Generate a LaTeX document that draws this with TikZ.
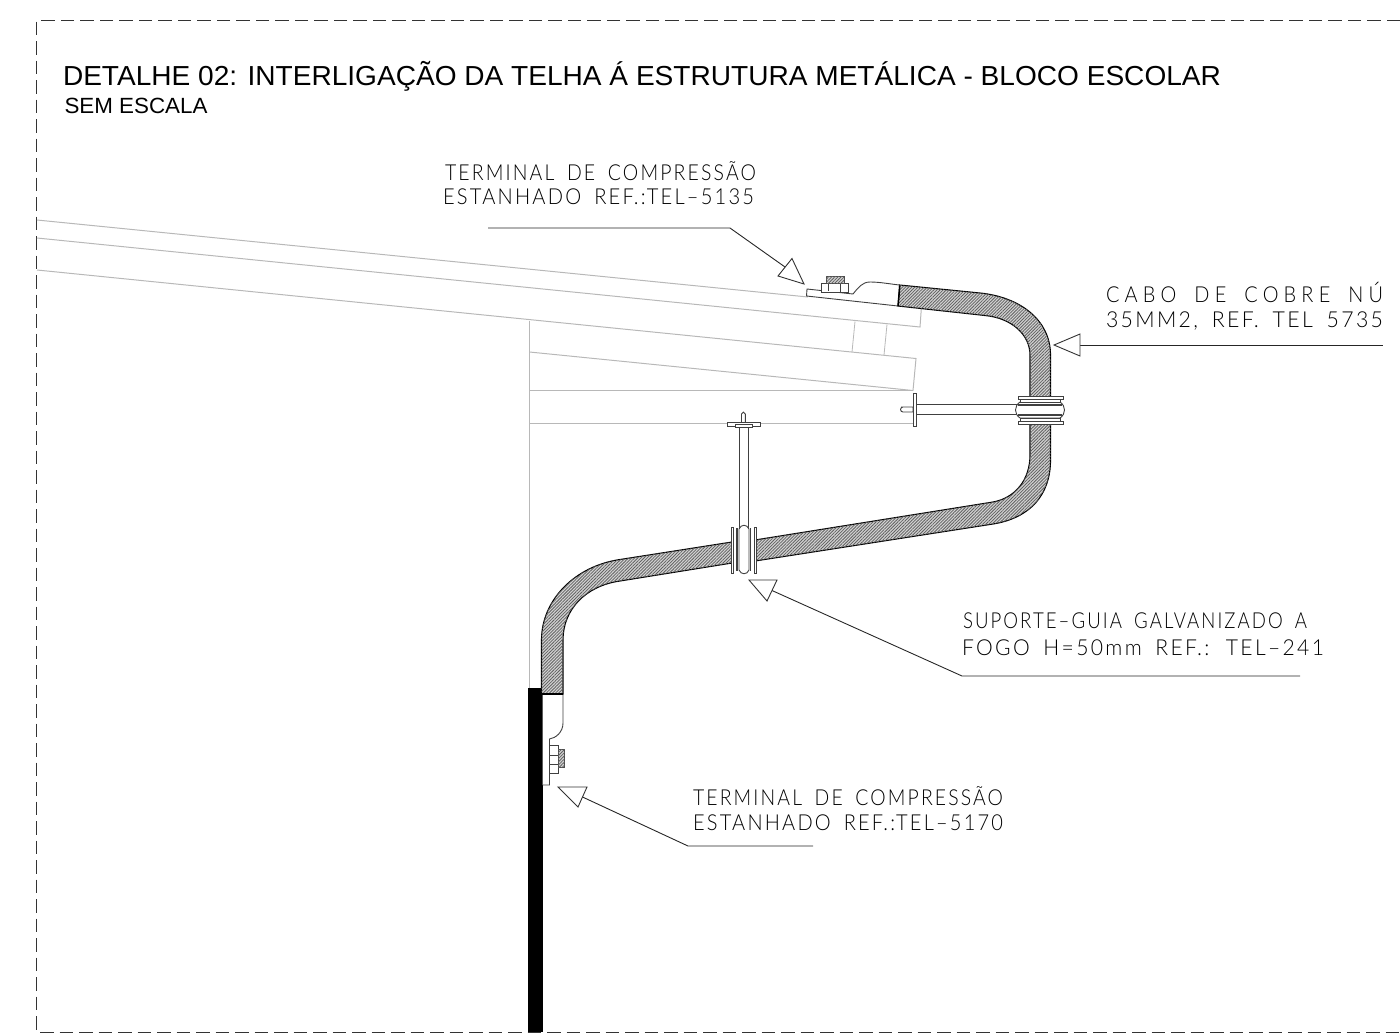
\documentclass[tikz,border=0pt]{standalone}
\usepackage{graphicx}
\usepackage{fontspec}
\usetikzlibrary{patterns.meta}
\setmainfont{Liberation Sans}
\newfontfamily\lblf[LetterSpace=11,WordSpace=1.7]{Lato Light}
\newfontfamily\lblw[LetterSpace=26,WordSpace=1.7]{Lato Light}
\newsavebox\fitbox
\newcommand\fitlabel[2]{\sbox\fitbox{\lblf\fontsize{22}{22}\selectfont #2}\pgfmathsetmacro\fitx{#1/\wd\fitbox}\scalebox{\fitx}[1]{\usebox\fitbox}}
\newcommand\fitwide[2]{\sbox\fitbox{\lblw\fontsize{22}{22}\selectfont #2}\pgfmathsetmacro\fitx{#1/\wd\fitbox}\scalebox{\fitx}[1]{\usebox\fitbox}}
\newcommand\fittitle[3]{\sbox\fitbox{\fontsize{#2}{#2}\selectfont #3}\pgfmathsetmacro\fitx{#1/\wd\fitbox}\scalebox{\fitx}[1]{\usebox\fitbox}}
\definecolor{roofgray}{gray}{0.72}
\definecolor{framegray}{gray}{0.2}
\tikzset{
  roof/.style={draw=roofgray,line width=1pt},
  part/.style={draw=black!75,line width=0.9pt,fill=white},
  cable/.style={draw=black,line width=1.1pt,fill=gray!35,postaction={pattern={Lines[angle=45,distance=2.2pt,line width=0.8pt]},pattern color=black!62}},
  hatchpart/.style={draw=black!70,line width=0.7pt,fill=gray!35,postaction={pattern={Lines[angle=45,distance=2.2pt,line width=0.8pt]},pattern color=black!62}},
  leader/.style={draw=black!85,line width=0.9pt},
  tipmark/.style={draw=black!80,line width=0.9pt,fill=white},
  txt/.style={inner sep=0pt,outer sep=0pt,anchor=base west,text=black},
  ttl/.style={inner sep=0pt,outer sep=0pt,anchor=base west,text=black}
}
\begin{document}
\begin{tikzpicture}[x=1pt,y=-1pt]
\useasboundingbox (0,0) rectangle (1400,1034);
% frame
\draw[framegray,line width=1pt,dash pattern=on 13.5pt off 6pt] (1400,20) -- (36.5,20) -- (36.5,1032) -- (1400,1032);
% titles
\node[ttl] (title) at (63,85.5) {\fittitle{1158}{27.5}{DETALHE 02: INTERLIGAÇÃO DA TELHA Á ESTRUTURA METÁLICA - BLOCO ESCOLAR}};
\node[ttl] (scale) at (64.5,113.5) {\fittitle{143}{22}{SEM ESCALA}};
% roof and structure
\draw[roof] (37,220) -- (808,297);
\draw[roof] (37,238) -- (920,327) -- (921.5,306);
\draw[roof] (37,270) -- (916,358.5) -- (913,390.5);
\draw[roof] (529.5,321) -- (529.5,688);
\draw[roof] (529.5,352) -- (913,390.5);
\draw[roof] (529.5,390.5) -- (913,390.5);
\draw[roof] (529.5,423) -- (913,423);
\draw[roof,line width=0.8pt] (855,321.5) -- (852,352);
\draw[roof,line width=0.8pt] (887,324.5) -- (884,355);
% down conductor bar
\fill[black] (528,687.7) rectangle (542.5,1032);
% cable
\path[cable] (899.5,285) -- (980,293) .. controls (1020,297) and (1050.5,320) .. (1050.5,355) -- (1050.5,397) -- (1030,397) -- (1030,355) .. controls (1030,335) and (1012,318) .. (985,315.5) -- (898,306) -- cycle;
\path[cable] (1030,422) -- (1050.5,422) -- (1050.5,460) .. controls (1050.5,495) and (1030,518) .. (993,524) -- (755,561) -- (755,540) -- (993,502) .. controls (1015,498) and (1030,480) .. (1030,455) -- cycle;
\path[cable] (732,542) -- (620,559.5) .. controls (575,566) and (541.5,600) .. (541.5,640) -- (541.5,694) -- (563,694) -- (563,640) .. controls (563,610) and (585,586) .. (620,581) -- (732,563) -- cycle;
% top terminal
\draw[part] (807,289) -- (853,294) .. controls (858,288) and (862,282) .. (870,282) .. controls (880,282) and (890,284) .. (899.5,285) -- (898,306) -- (806.5,296) -- cycle;
\draw[part] (821,283) rectangle (848,292);
\draw[part] (828.5,283) -- (828.5,291);
\draw[part] (840,283) -- (840,292);
\path[hatchpart] (826,276) rectangle (844,283);
\draw[black,line width=1.5pt] (899.8,285.5) -- (898,306);
% horizontal support
\draw[part] (901,407) -- (913,407) -- (913,412) -- (903,412) arc[start angle=270,end angle=90,radius=2.5pt] ;
\draw[part] (916,404) rectangle (1020,414);
\draw[part] (913,393) rectangle (916,426);
% right clamp
\draw[part] (1020,402) .. controls (1014,406) and (1014,414) .. (1020,418) -- (1060,418) .. controls (1066,414) and (1066,406) .. (1060,402) -- cycle;
\draw[part] (1018,396) rectangle (1063,399);
\draw[part] (1018,421) rectangle (1063,424);
\draw[part] (1020,399) rectangle (1060,402);
\draw[part] (1020,418) rectangle (1060,421);
\draw[black!75,line width=1.2pt] (1018,405) -- (1062,405);
\draw[black!75,line width=1.2pt] (1018,415) -- (1062,415);
% vertical support
\draw[part] (741.5,422) -- (741.5,414) arc[start angle=180,end angle=0,radius=1.9pt] -- (745.3,422);
\draw[part] (739,427) rectangle (748.5,528);
\draw[part] (727.5,422) rectangle (760,426);
\draw[part] (735.5,424.5) rectangle (752,427);
% lower clamp
\draw[part] (739,529) .. controls (741,524) and (747,524) .. (749,529) -- (749,570) .. controls (747,575) and (741,575) .. (739,570) -- cycle;
\draw[part] (731,527) rectangle (733.5,573);
\draw[part] (754,527) rectangle (756.3,573);
\draw[black!75,line width=1.3pt] (737,528) -- (737,571);
\draw[black!75,line width=1.3pt] (750.5,528) -- (750.5,571);
% bottom terminal
\draw[part] (542.5,694) -- (563,694) -- (563,723) .. controls (563,732) and (556,738) .. (549.5,739) -- (549.5,785) -- (542.5,785);
\draw[black,line width=1.4pt] (541.5,694) -- (563,694);
\draw[part] (549.5,745) rectangle (558,773);
\draw[part] (549.5,755) -- (558,755);
\draw[part] (549.5,764) -- (558,764);
\path[hatchpart] (558,749) rectangle (564.5,767);
% leaders
\coordinate (tipA) at (804,284);
\coordinate (baseA1) at (792,258.5);
\coordinate (baseA2) at (778,276);
\coordinate (kneeA) at (730,228);
\coordinate (endA) at (488,228);
\coordinate (midA) at (785,267);
\draw[leader] (endA) -- (kneeA) -- (midA);
\draw[tipmark] (tipA) -- (baseA1) -- (baseA2) -- cycle;
\coordinate (tipB) at (1054,345);
\coordinate (baseB1) at (1080,334);
\coordinate (baseB2) at (1080,356);
\coordinate (midB) at (1080,345);
\coordinate (endB) at (1383,345);
\draw[leader] (midB) -- (endB);
\draw[tipmark] (tipB) -- (baseB1) -- (baseB2) -- cycle;
\coordinate (tipC) at (749,580);
\coordinate (baseC1) at (777,580);
\coordinate (baseC2) at (767,601);
\coordinate (midC) at (772,590.5);
\coordinate (kneeC) at (962,676);
\coordinate (endC) at (1300,676);
\draw[leader] (midC) -- (kneeC) -- (endC);
\draw[tipmark] (tipC) -- (baseC1) -- (baseC2) -- cycle;
\coordinate (tipD) at (558,787);
\coordinate (baseD1) at (587,787);
\coordinate (baseD2) at (578,807);
\coordinate (midD) at (582.5,797);
\coordinate (kneeD) at (688,846);
\coordinate (endD) at (813,846);
\draw[leader] (midD) -- (kneeD) -- (endD);
\draw[tipmark] (tipD) -- (baseD1) -- (baseD2) -- cycle;
% labels
\node[txt] (la1) at (445,180) {\fitlabel{311}{TERMINAL DE COMPRESSÃO}};
\node[txt] (la2) at (443,204) {\fitlabel{311}{ESTANHADO REF.:TEL–5135}};
\node[txt] (lb1) at (1106,302) {\fitwide{277}{CABO DE COBRE NÚ}};
\node[txt] (lb2) at (1106,327) {\fitlabel{277}{35MM2, REF. TEL 5735}};
\node[txt] (lc1) at (963,628) {\fitlabel{344}{SUPORTE–GUIA GALVANIZADO A}};
\node[txt] (lc2) at (962,655) {\fitlabel{362}{FOGO H=50mm REF.: TEL–241}};
\node[txt] (ld1) at (693,805) {\fitlabel{310}{TERMINAL DE COMPRESSÃO}};
\node[txt] (ld2) at (693,830) {\fitlabel{310}{ESTANHADO REF.:TEL–5170}};
\end{tikzpicture}
\end{document}
